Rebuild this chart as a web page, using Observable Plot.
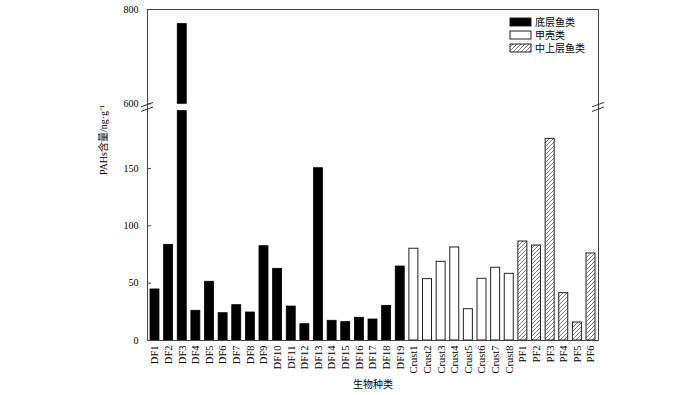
<!DOCTYPE html>
<html><head><meta charset="utf-8">
<script src="https://cdn.jsdelivr.net/npm/d3@7"></script>
<script src="https://cdn.jsdelivr.net/npm/@observablehq/plot@0.6"></script>
<style>
body{margin:0;background:#fff;}
#wrap{position:relative;width:700px;height:395px;font-family:"Liberation Serif","Noto Sans CJK SC",serif;}
#legend{position:absolute;left:509px;top:16px;}
</style></head><body><div id="wrap"></div>
<script>
// ---- data ----
const dfNames = ["DF1","DF2","DF3","DF4","DF5","DF6","DF7","DF8","DF9","DF10","DF11","DF12","DF13","DF14","DF15","DF16","DF17","DF18","DF19"];
const dfValues = [44.5,83.4,769,25.9,51.2,23.8,30.8,24.4,82.2,62.5,29.6,14.2,150.2,17.2,16.0,19.8,18.3,30.2,64.5];
const crustNames = ["Crust1","Crust2","Crust3","Crust4","Crust5","Crust6","Crust7","Crust8"];
const crustValues = [80.0,53.5,68.6,81.1,27.3,53.8,63.4,58.1];
const pfNames = ["PF1","PF2","PF3","PF4","PF5","PF6"];
const pfValues = [86.3,82.8,175.8,41.3,15.7,75.9];
const groupNames = ["底层鱼类","甲壳类","中上层鱼类"];
const yTicks = [0,50,100,150,600,800];
const breakLow = 200, breakHigh = 600, yMax = 800;
const yTitle = "PAHs含量/ng·g⁻¹";
const xTitle = "生物种类";

// ---- layout ----
const W = 700, H = 395;
const mL = 147, mR = 102, mT = 9, mB = 55;
const plotW = W - mL - mR;
const yBottom = H - mB;                 // value 0
const lowerTop = yBottom - 229.4;        // value breakLow
const upperBottom = lowerTop - 7.3;      // value breakHigh
const yTop = mT;                         // value yMax

function segs(names, values) {
  return names.flatMap((name, i) => {
    const v = values[i];
    return v > breakLow
      ? [{name, y1: 0, y2: breakLow}, {name, y1: breakHigh, y2: v}]
      : [{name, y1: 0, y2: v}];
  });
}
const allNames = [...dfNames, ...crustNames, ...pfNames];
const font = '"Liberation Serif","Noto Sans CJK SC",serif';

const plot = Plot.plot({
  width: W, height: H,
  marginLeft: mL, marginRight: mR, marginTop: mT, marginBottom: mB,
  style: {fontFamily: font, fontSize: "10px", background: "white", color: "black"},
  x: {type: "band", domain: allNames, paddingInner: 0.34, paddingOuter: 0.22, round: false, axis: null},
  y: {type: "linear", domain: [0, breakLow, breakHigh, yMax], range: [yBottom, lowerTop, upperBottom, yTop], axis: null},
  marks: [
    Plot.barY(segs(dfNames, dfValues), {x: "name", y1: "y1", y2: "y2", fill: "black", stroke: "black", strokeWidth: 0.8}),
    Plot.barY(segs(crustNames, crustValues), {x: "name", y1: "y1", y2: "y2", fill: "white", stroke: "#222", strokeWidth: 1}),
    Plot.barY(segs(pfNames, pfValues), {x: "name", y1: "y1", y2: "y2", fill: "url(#hatch)", stroke: "#222", strokeWidth: 1}),
    Plot.frame({stroke: "#444", strokeWidth: 1}),
    Plot.tickY(yTicks, {y: d => d, insetRight: plotW - 4, stroke: "#444"}),
    Plot.axisY({ticks: yTicks, tickSize: 0, tickPadding: 9, label: null, fontSize: 10}),
    Plot.axisX({tickRotate: -90, tickSize: 0, tickPadding: 5, label: null, fontSize: 10.5}),
    Plot.text([yTitle], {text: d => d, frameAnchor: "left", rotate: -90, dx: -44, fontSize: 10}),
    Plot.text([xTitle], {text: d => d, frameAnchor: "bottom", dy: 47, fontSize: 10})
  ]
});

// hatch pattern
const svg = d3.select(plot);
svg.insert("defs", ":first-child").html(
  '<pattern id="hatch" patternUnits="userSpaceOnUse" width="4" height="4">' +
  '<path d="M-1,1 l2,-2 M0,4 l4,-4 M3,5 l2,-2" stroke="#444" stroke-width="0.7"/></pattern>'
);

// axis break marks
const ys = plot.scale("y");
const yc = (ys.apply(breakLow) + ys.apply(breakHigh)) / 2;
const xs = [mL, W - mR];
const gBreak = svg.append("g").attr("stroke", "#333").attr("stroke-width", 1);
for (const x0 of xs) {
  for (const off of [-2.3, 2.3]) {
    gBreak.append("line")
      .attr("x1", x0 - 6).attr("y1", yc + off + 2.2)
      .attr("x2", x0 + 6).attr("y2", yc + off - 2.2);
  }
}

const wrap = document.getElementById("wrap");
wrap.appendChild(plot);

// legend
const fills = ["black", "white", "url(#hatch)"];
const leg = d3.select(wrap).append("svg").attr("id", "legend").attr("width", 110).attr("height", 44);
groupNames.forEach((g, i) => {
  leg.append("rect").attr("x", 1).attr("y", 2 + i * 13).attr("width", 21).attr("height", 8)
    .attr("fill", fills[i]).attr("stroke", "#222").attr("stroke-width", 1);
  leg.append("text").attr("x", 26).attr("y", 6 + i * 13).attr("dy", "0.35em")
    .attr("font-size", 10).attr("font-family", font).text(g);
});
</script></body></html>
